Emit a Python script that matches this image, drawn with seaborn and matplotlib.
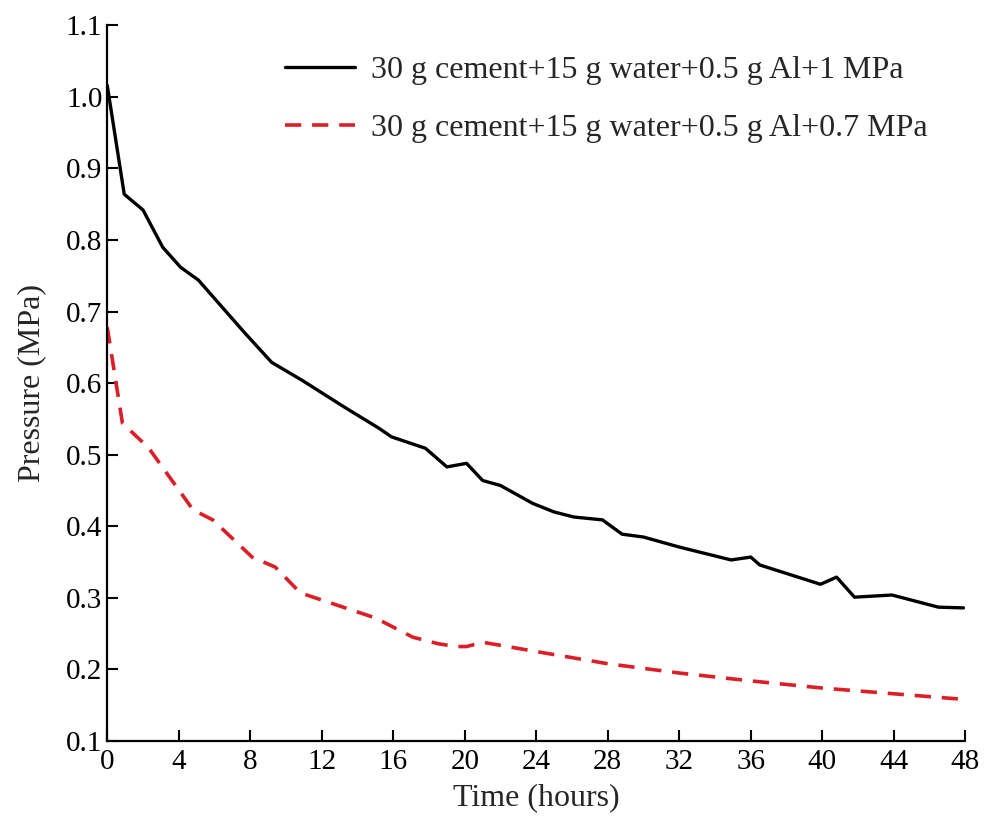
import matplotlib
matplotlib.use("Agg")
import matplotlib.pyplot as plt
import seaborn as sns
import pandas as pd

# black curve, 1 MPa initial
t_1mpa = [0, 0.95, 2.0, 3.1, 4.1, 5.1, 7.7, 9.2, 10.9, 13.3, 15.2, 15.9, 17.8, 19.0,
          20.1, 21.0, 22.0, 23.8, 25.0, 26.1, 27.7, 28.8, 30.0, 32.0, 34.9, 36.0,
          36.5, 39.9, 40.8, 41.8, 43.9, 46.5, 47.9]
p_1mpa = [1.016, 0.864, 0.842, 0.790, 0.762, 0.744, 0.670, 0.629, 0.604, 0.566, 0.537,
          0.525, 0.509, 0.483, 0.488, 0.464, 0.457, 0.432, 0.420, 0.413, 0.409, 0.389,
          0.385, 0.371, 0.353, 0.357, 0.346, 0.319, 0.329, 0.301, 0.304, 0.287, 0.286]

# red curve, 0.7 MPa initial
t_07mpa = [0, 0.85, 2.3, 4.8, 5.9, 7.3, 8.1, 9.4, 10.8, 12, 15, 17.1, 18.5, 19.5,
           20.1, 21, 24, 28, 32, 36, 40, 44, 48]
p_07mpa = [0.678, 0.544, 0.510, 0.423, 0.409, 0.376, 0.357, 0.343, 0.307, 0.297, 0.272,
           0.245, 0.236, 0.232, 0.232, 0.238, 0.225, 0.208, 0.195, 0.184, 0.174, 0.166, 0.158]

labels = ["30 g cement+15 g water+0.5 g Al+1 MPa",
          "30 g cement+15 g water+0.5 g Al+0.7 MPa"]
x_ticks = list(range(0, 49, 4))
y_ticks = [0.1, 0.2, 0.3, 0.4, 0.5, 0.6, 0.7, 0.8, 0.9, 1.0, 1.1]

sns.set_style("ticks")
plt.rcParams['font.family'] = ['Liberation Serif', 'DejaVu Serif']

fig = plt.figure(figsize=(9.84, 8.17), dpi=100)
ax = fig.add_axes([0.109, 0.093, 0.872, 0.876])

sns.lineplot(x=t_1mpa, y=p_1mpa, ax=ax, color="black", lw=2.4, label=labels[0])
sns.lineplot(x=t_07mpa, y=p_07mpa, ax=ax, color="#dc1f26", lw=2.6, label=labels[1],
             linestyle=(0, (4.5, 3)))

ax.set_xlim(0, 48)
ax.set_ylim(0.1, 1.1)
ax.set_xticks(x_ticks)
ax.set_yticks(y_ticks)
ax.set_yticklabels([f"{v:.1f}" for v in y_ticks])
ax.tick_params(direction="in", length=8, width=1.5, labelsize=21, colors="black")
ax.tick_params(axis="x", pad=6)
for s in ["left", "bottom"]:
    ax.spines[s].set_linewidth(1.6)
    ax.spines[s].set_color("black")
sns.despine(ax=ax)

ax.set_xlabel("Time (hours)", fontsize=23, labelpad=6)
ax.set_ylabel("Pressure (MPa)", fontsize=23, labelpad=14)

ax.legend(loc="upper right", bbox_to_anchor=(0.99, 0.998), frameon=False, fontsize=23,
          handlelength=2.2, handletextpad=0.5, labelspacing=0.9)

fig.savefig("out.png", dpi=100, facecolor="white")
